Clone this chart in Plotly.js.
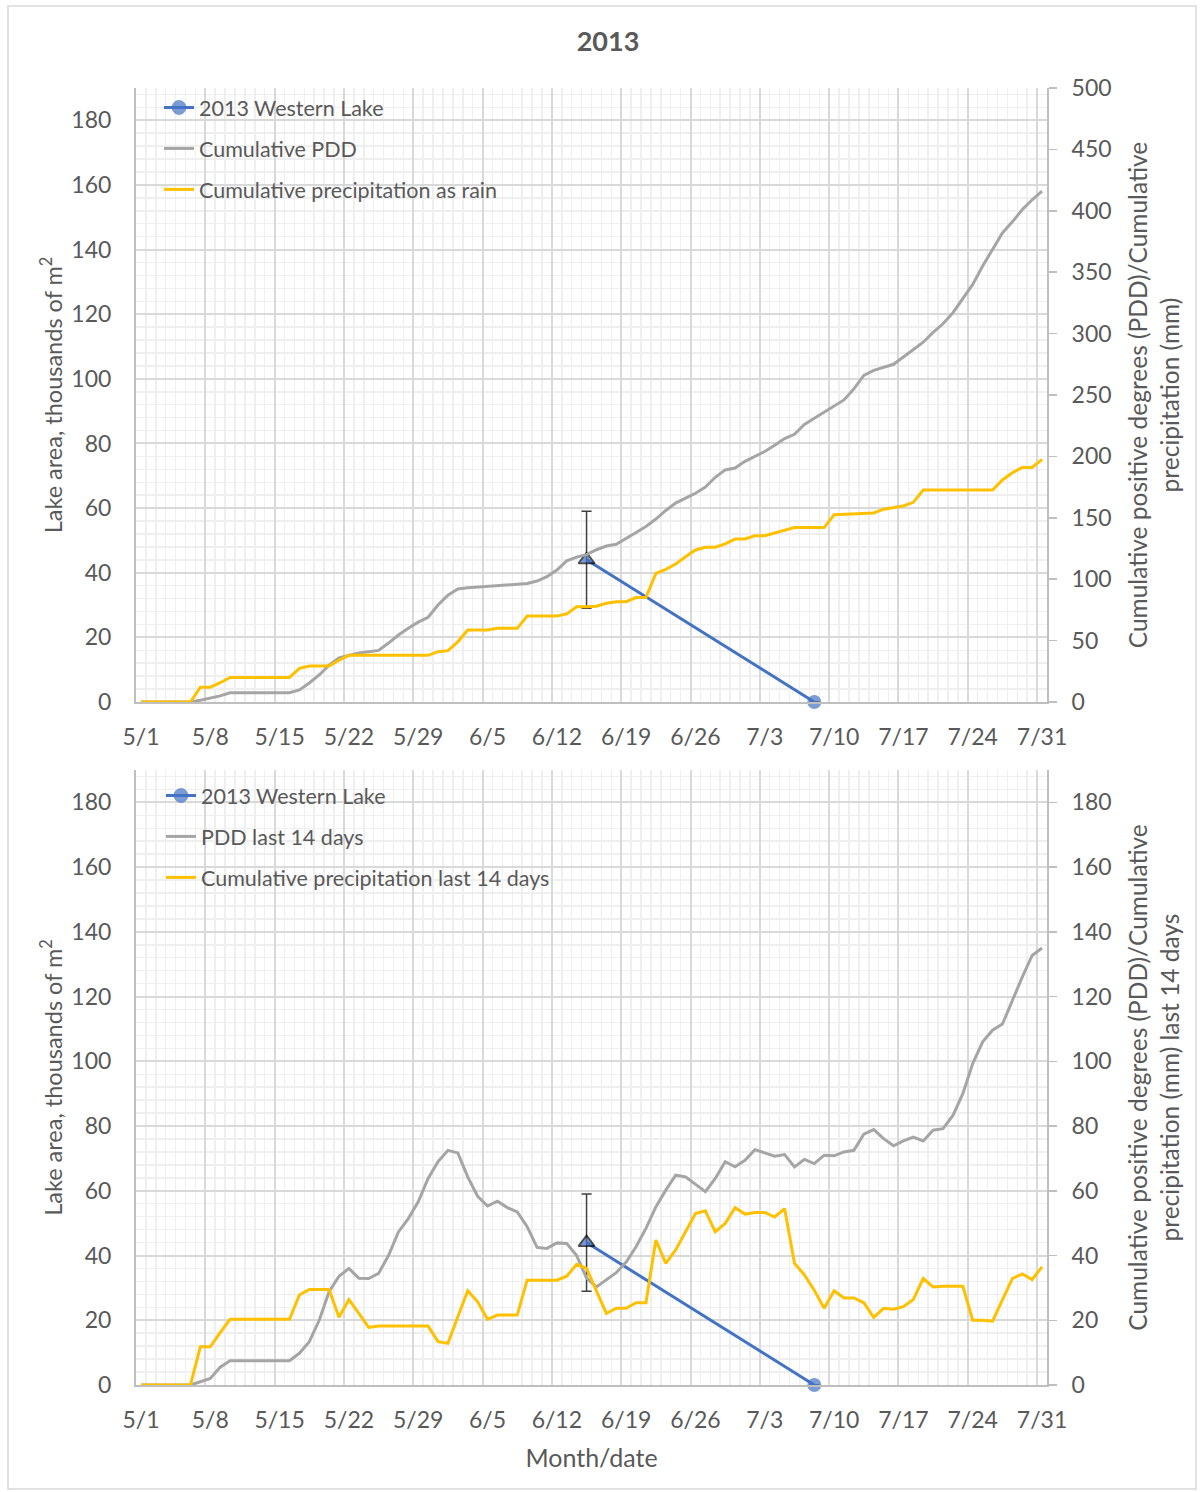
<!DOCTYPE html>
<html>
<head>
<meta charset="utf-8">
<script src="https://cdn.plot.ly/plotly-3.0.1.min.js"></script>
<style>
  html, body { margin: 0; padding: 0; background: #ffffff; }
  #chart { width: 1203px; height: 1492px; }
</style>
</head>
<body>
<div id="chart"></div>
<script>
// Daily categories: 1 May – 31 July 2013
const startDay = '2013-05-01';
const dayCount = 92;
const dates = [];
for (let i = 0; i < dayCount; i++) {
  const d = new Date(Date.UTC(2013, 4, 1 + i));
  dates.push(d.toISOString().slice(0, 10));
}

// Lake area observations (thousands of m²)
const lakeDates = ['2013-07-08', '2013-06-15'];
const lakeArea = [0, 44];
const lakeErr = [0, 15];

// Cumulative positive degree days
const cumPDD = [
  0, 0, 0, 0, 0, 0, 1.5, 3, 5, 7.5,
  7.5, 7.5, 7.5, 7.5, 7.5, 7.5, 9.8, 15.5, 22, 30,
  36, 38, 40, 41, 42, 48, 54.5, 60, 65, 69,
  79, 87, 92, 93, 93.5, 94, 94.5, 95.5, 96, 96.5,
  98.5, 102, 107.5, 115, 118, 120, 124, 127, 128.5, 133,
  138, 143, 149, 156, 162, 166, 170, 175, 183, 189,
  190.5, 196, 200, 204, 209, 214.5, 218, 226, 231, 236,
  240.5, 246, 255, 266, 270, 272.5, 275, 281, 287, 293,
  301, 308, 317, 328, 340, 355, 369, 382, 391, 401,
  409, 416
];

// Cumulative precipitation as rain (mm)
const cumRain = [
  0, 0, 0, 0, 0, 0, 12, 12, 15.7, 20,
  20, 20, 20, 20, 20, 20, 27.4, 29.3, 29.3, 29.3,
  34, 38, 38, 38, 38, 38, 38, 38, 38, 38,
  41, 41.8, 49, 58.6, 58.6, 58.6, 60, 60, 60, 70,
  70, 70, 70, 71.7, 77.6, 77.6, 78, 80.4, 81.7, 81.7,
  85, 85, 104.8, 108, 112.4, 118.3, 123.8, 126, 126, 128.7,
  132.7, 132.7, 135.4, 135.4, 137.4, 140, 142, 142, 142, 142,
  152.5, 153, 153.2, 153.6, 154, 157, 158.5, 159.6, 162.6, 172.6,
  172.6, 172.6, 172.6, 172.6, 172.6, 172.6, 172.6, 180.8, 186.7, 191,
  191, 197.6
];

// PDD over the preceding 14 days
const pdd14 = [
  0, 0, 0, 0, 0, 0, 1, 2, 5.5, 7.5,
  7.5, 7.5, 7.5, 7.5, 7.5, 7.5, 9.8, 13.4, 20, 28.8,
  33.6, 36, 33, 32.9, 34.5, 40, 47.3, 51.4, 56.6, 63.8,
  69, 72.5, 71.7, 64.3, 58.3, 55.3, 56.8, 54.8, 53.5, 48.9,
  42.5, 42.2, 43.9, 43.7, 40, 33, 30.3, 32.4, 34.7, 38,
  42.7, 48.4, 55, 60.2, 64.8, 64.3, 62, 59.7, 63.8, 69,
  67.4, 69.4, 72.7, 71.7, 70.7, 71.2, 67.4, 69.7, 68.4, 71,
  70.8, 72, 72.5, 77.5, 78.9, 76.1, 73.9, 75.4, 76.6, 75.4,
  78.7, 79.2, 83.3, 90, 99.3, 106, 109.6, 111.5, 118.8, 126,
  132.7, 135
];

// Precipitation over the preceding 14 days (mm)
const rain14 = [
  0, 0, 0, 0, 0, 0, 11.8, 11.8, 16.2, 20.3,
  20.3, 20.3, 20.3, 20.3, 20.3, 20.3, 27.8, 29.5, 29.5, 29.5,
  20.9, 26.4, 22.1, 17.8, 18.2, 18.2, 18.2, 18.2, 18.2, 18.2,
  13.4, 12.9, 21.1, 29.1, 25.7, 20.3, 21.6, 21.6, 21.6, 32.4,
  32.4, 32.4, 32.4, 33.6, 37.3, 36, 29.3, 22.1, 23.7, 23.7,
  25.4, 25.4, 44.8, 37.6, 41.7, 47.3, 53, 53.8, 47.3, 49.9,
  54.8, 52.8, 53.3, 53.3, 51.9, 54.5, 37.6, 34, 29.3, 23.7,
  29.1, 26.9, 26.9, 25.4, 20.9, 23.7, 23.4, 24.2, 26.4, 32.9,
  30.3, 30.5, 30.5, 30.5, 20, 20, 19.7, 26.4, 32.9, 34.3,
  32.6, 36.5
];

const W = 1203, H = 1492;
const px = v => v / W;
const py = v => 1 - v / H;

const BLUE = '#4472C4', GRAY = '#A5A5A5', GOLD = '#FFC000';
const TXT = '#595959', AXL = '#bfbfbf', MAJ = '#d9d9d9', MIN = '#efefef';
const FONT = 'Lato, "Open Sans", sans-serif';
const DAY = 86400000;
const xRange = ['2013-04-30 12:00', '2013-07-31 12:00'];
const xDomain = [px(136), px(1047)];

// Minor grid positions that do not coincide with the major ones
const dayEdges = [];
for (let i = 0; i <= dayCount; i++) {
  if (i % 7 === 0) continue;
  const t = new Date(Date.UTC(2013, 3, 30, 12) + i * DAY);
  dayEdges.push(t.toISOString().slice(0, 16).replace('T', ' '));
}
const minorY = [];
for (let v = 4; v < 190; v += 4) {
  if (v % 20 !== 0) minorY.push(v);
}

function lakeTrace(xa, ya, legendId) {
  return {
    x: lakeDates, y: lakeArea, xaxis: xa, yaxis: ya,
    type: 'scatter', mode: 'lines+markers', cliponaxis: false,
    name: '2013 Western Lake', legend: legendId, legendgroup: 'lake',
    line: { color: BLUE, width: 3 },
    marker: {
      symbol: ['circle', 'triangle-up'], size: [14, 14], color: BLUE,
      line: { color: [BLUE, '#000000'], width: [0, 1.8] }
    },
    error_y: {
      type: 'data', symmetric: true, array: lakeErr, visible: true,
      color: '#404040', thickness: 1.5, width: 5
    },
    hoverinfo: 'x+y'
  };
}

function lineTrace(y, name, color, xa, ya, legendId, group) {
  return {
    x: dates, y: y, xaxis: xa, yaxis: ya, type: 'scatter', mode: 'lines',
    name: name, legend: legendId, legendgroup: group,
    line: { color: color, width: 3 }
  };
}

// Empty carrier trace so the vertical-grid overlay axis gets rendered
function gridCarrier(xa, ya) {
  return {
    x: xRange, y: [null, null], xaxis: xa, yaxis: ya, type: 'scatter',
    mode: 'lines', showlegend: false, hoverinfo: 'skip'
  };
}

const data = [
  gridCarrier('x3', 'y'),
  gridCarrier('x4', 'y3'),
  lakeTrace('x', 'y', 'legend'),
  lineTrace(cumPDD, 'Cumulative PDD', GRAY, 'x', 'y2', 'legend', 'pdd'),
  lineTrace(cumRain, 'Cumulative precipitation as rain', GOLD, 'x', 'y2', 'legend', 'rain'),
  lakeTrace('x2', 'y3', 'legend2'),
  lineTrace(pdd14, 'PDD last 14 days', GRAY, 'x2', 'y4', 'legend2', 'pdd'),
  lineTrace(rain14, 'Cumulative precipitation last 14 days', GOLD, 'x2', 'y4', 'legend2', 'rain')
];

const tickFont = { family: FONT, size: 23, color: TXT };

function dateAxis(anchor, extra) {
  return Object.assign({
    type: 'date', range: xRange, domain: xDomain, anchor: anchor,
    tick0: startDay, dtick: 7 * DAY, tickformat: '%-m/%-d',
    showgrid: false, zeroline: false,
    showline: true, linecolor: AXL, linewidth: 2,
    ticks: '', ticklabelstandoff: 13, tickfont: tickFont,
    automargin: false
  }, extra || {});
}

// Week boundaries (major) and day boundaries (minor) for the vertical grid
function gridAxis(over, anchor) {
  return {
    type: 'date', range: xRange, domain: xDomain, anchor: anchor,
    overlaying: over, tick0: '2013-04-30 12:00', dtick: 7 * DAY,
    showticklabels: false, ticks: '', showline: false, zeroline: false,
    showgrid: true, gridcolor: MAJ, gridwidth: 2,
    minor: { tickmode: 'array', tickvals: dayEdges, showgrid: true, gridcolor: MIN, gridwidth: 1.5 },
    automargin: false
  };
}

function leftAxis(domain, titleText) {
  return {
    domain: domain, range: [0, 190], tick0: 0, dtick: 20,
    showgrid: true, gridcolor: MAJ, gridwidth: 2,
    minor: { tickmode: 'array', tickvals: minorY, showgrid: true, gridcolor: MIN, gridwidth: 1.5 },
    zeroline: false, showline: true, linecolor: AXL, linewidth: 2,
    ticks: '', ticklabelstandoff: 18, tickfont: tickFont,
    title: { text: titleText, font: { family: FONT, size: 23.5, color: TXT }, standoff: 2 },
    automargin: false
  };
}

function rightAxis(over, anchor, range, dtick, titleText) {
  return {
    overlaying: over, anchor: anchor, side: 'right', range: range, tick0: 0, dtick: dtick,
    showgrid: false, zeroline: false, showline: true, linecolor: AXL, linewidth: 2,
    ticks: 'outside', ticklen: 8, tickcolor: AXL, tickwidth: 1.5,
    ticklabelstandoff: 10, tickfont: tickFont,
    title: { text: titleText, font: { family: FONT, size: 24.5, color: TXT }, standoff: 19 },
    automargin: false
  };
}

const topDom = [py(702), py(88)];
const botDom = [py(1385), py(770)];
const areaTitle = 'Lake area, thousands of m<sup>2</sup>';
const legendFont = { family: FONT, size: 21.5, color: TXT };

const layout = {
  width: W, height: H, autosize: false,
  margin: { l: 0, r: 0, t: 0, b: 0 },
  paper_bgcolor: '#ffffff', plot_bgcolor: 'rgba(0,0,0,0)',
  font: { family: FONT, color: TXT },
  showlegend: true,
  title: {
    text: '<b>2013</b>', x: px(608), xanchor: 'center', xref: 'paper',
    y: py(42), yanchor: 'middle', yref: 'paper',
    font: { family: FONT, size: 27, color: TXT }
  },
  xaxis: dateAxis('y'),
  xaxis2: dateAxis('y3', {
    title: { text: 'Month/date', font: { family: FONT, size: 25, color: TXT }, standoff: 18 }
  }),
  xaxis3: gridAxis('x', 'y'),
  xaxis4: gridAxis('x2', 'y3'),
  yaxis: Object.assign(leftAxis(topDom, areaTitle), { anchor: 'x' }),
  yaxis2: rightAxis('y', 'x', [0, 500], 50,
    'Cumulative positive degrees (PDD)/Cumulative<br>precipitation (mm)'),
  yaxis3: Object.assign(leftAxis(botDom, areaTitle), { anchor: 'x2' }),
  yaxis4: rightAxis('y3', 'x2', [0, 190], 20,
    'Cumulative positive degrees (PDD)/Cumulative<br>precipitation (mm) last 14 days'),
  legend: {
    x: px(159), xanchor: 'left', y: py(87), yanchor: 'top',
    bgcolor: 'rgba(0,0,0,0)', borderwidth: 0, font: legendFont,
    traceorder: 'grouped', tracegroupgap: 10
  },
  legend2: {
    x: px(161), xanchor: 'left', y: py(775), yanchor: 'top',
    bgcolor: 'rgba(0,0,0,0)', borderwidth: 0, font: legendFont,
    traceorder: 'grouped', tracegroupgap: 10
  },
  shapes: [{
    type: 'rect', xref: 'paper', yref: 'paper',
    x0: px(8), x1: px(1196), y0: py(1489), y1: py(6),
    line: { color: MAJ, width: 1.5 }, fillcolor: 'rgba(0,0,0,0)', layer: 'below'
  }]
};

Plotly.newPlot('chart', data, layout, { displayModeBar: false, staticPlot: true });
</script>
</body>
</html>
